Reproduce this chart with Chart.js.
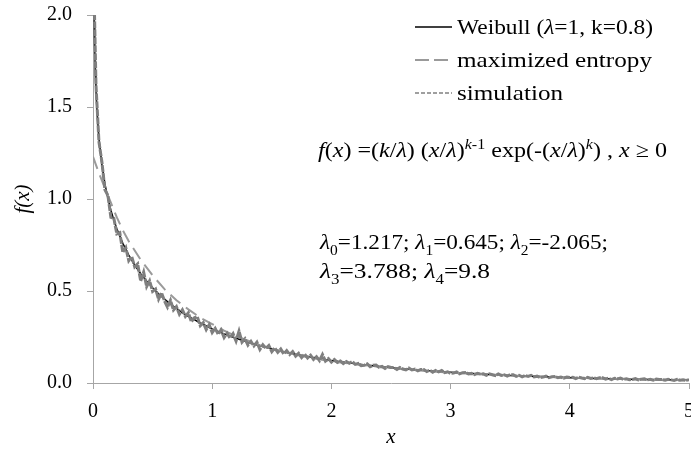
<!DOCTYPE html>
<html>
<head>
<meta charset="utf-8">
<script src="https://cdn.jsdelivr.net/npm/chart.js@4.4.1/dist/chart.umd.min.js"></script>
<style>
  html, body { margin: 0; padding: 0; background: #fff; }
  #wrap { width: 691px; height: 450px; }
</style>
</head>
<body>
<div id="wrap"><canvas id="myChart"></canvas></div>
<script>
// Weibull (lambda=1, k=0.8)
const weibullX = [0.005, 0.01, 0.015, 0.02, 0.025, 0.035, 0.05, 0.075, 0.1, 0.125, 0.15, 0.175, 0.2, 0.25, 0.3, 0.35, 0.4, 0.45, 0.5, 0.55, 0.6, 0.65, 0.7, 0.75, 0.8, 0.85, 0.9, 0.95, 1.0, 1.1, 1.2, 1.3, 1.4, 1.5, 1.6, 1.7, 1.8, 1.9, 2.0, 2.25, 2.5, 2.75, 3.0, 3.25, 3.5, 3.75, 4.0, 4.25, 4.5, 4.75, 5.0];
const weibullY = [2.28, 1.96, 1.79, 1.675, 1.588, 1.461, 1.329, 1.184, 1.082, 1.003, 0.939, 0.885, 0.838, 0.759, 0.695, 0.641, 0.594, 0.554, 0.518, 0.485, 0.456, 0.429, 0.405, 0.383, 0.362, 0.344, 0.326, 0.310, 0.294, 0.267, 0.243, 0.221, 0.202, 0.185, 0.170, 0.156, 0.144, 0.132, 0.122, 0.101, 0.083, 0.069, 0.058, 0.049, 0.041, 0.035, 0.029, 0.025, 0.021, 0.018, 0.016];

// maximized entropy curve (grey dashes)
const entropyX = [0, 0.05, 0.1, 0.15, 0.2, 0.25, 0.3, 0.35, 0.4, 0.5, 0.6, 0.7, 0.8, 0.9, 1.0, 1.1, 1.2, 1.4, 1.6, 1.8, 2.0, 2.5, 3.0, 3.5, 4.0, 4.5, 5.0];
const entropyY = [1.23, 1.14, 1.06, 0.98, 0.90, 0.83, 0.77, 0.72, 0.67, 0.585, 0.51, 0.45, 0.40, 0.355, 0.32, 0.285, 0.255, 0.205, 0.168, 0.14, 0.117, 0.08, 0.056, 0.04, 0.029, 0.021, 0.015];

// simulation, one value every 0.025 from x = 0 to 5
const simStep = 0.025;
const simY = [
  2.4,
  1.62, 1.31, 1.20, 1.05, 1.02, 0.90, 0.895, 0.81, 0.817, 0.71,
  0.736, 0.665, 0.687, 0.631, 0.647, 0.554, 0.603, 0.524, 0.555, 0.498,
  0.511, 0.455, 0.490, 0.446, 0.412, 0.449, 0.397, 0.415, 0.374, 0.398,
  0.362, 0.382, 0.333, 0.354, 0.360, 0.311, 0.328, 0.290, 0.317, 0.274,
  0.297, 0.265, 0.288, 0.247, 0.270, 0.244, 0.268, 0.228, 0.282, 0.222,
  0.241, 0.206, 0.226, 0.201, 0.222, 0.182, 0.208, 0.188, 0.204, 0.170,
  0.191, 0.167, 0.185, 0.158, 0.176, 0.155, 0.171, 0.146, 0.161, 0.138,
  0.157, 0.136, 0.151, 0.128, 0.143, 0.122, 0.155, 0.119, 0.133, 0.114,
  0.128, 0.112, 0.120, 0.106, 0.117, 0.107, 0.117, 0.101, 0.106, 0.094,
  0.096, 0.104, 0.089, 0.096, 0.098, 0.085, 0.090, 0.079, 0.089, 0.084,
  0.084, 0.074, 0.084, 0.076, 0.071, 0.081, 0.071, 0.075, 0.066, 0.074,
  0.074, 0.062, 0.069, 0.059, 0.068, 0.061, 0.068, 0.056, 0.061, 0.052,
  0.054, 0.060, 0.050, 0.056, 0.057, 0.049, 0.052, 0.045, 0.052, 0.049,
  0.050, 0.042, 0.050, 0.045, 0.040, 0.049, 0.041, 0.045, 0.038, 0.045,
  0.045, 0.036, 0.042, 0.033, 0.041, 0.036, 0.042, 0.033, 0.037, 0.030,
  0.032, 0.037, 0.029, 0.034, 0.035, 0.029, 0.032, 0.026, 0.032, 0.030,
  0.031, 0.024, 0.031, 0.027, 0.024, 0.031, 0.025, 0.028, 0.023, 0.029,
  0.029, 0.021, 0.026, 0.019, 0.026, 0.022, 0.027, 0.020, 0.023, 0.018,
  0.019, 0.024, 0.017, 0.021, 0.023, 0.017, 0.020, 0.015, 0.021, 0.019,
  0.019, 0.015, 0.020, 0.017, 0.014, 0.020, 0.015, 0.018, 0.014, 0.018
];

const xTicks = [0, 1, 2, 3, 4, 5];
const yTicks = [0.0, 0.5, 1.0, 1.5, 2.0];

const FONT = "'Liberation Serif', 'Times New Roman', serif";
const AXIS_GREY = '#a6a6a6';

const pts = (xs, ys) => xs.map((x, i) => ({x: x, y: ys[i]}));
const simPoints = simY.map((y, i) => ({x: +(i * simStep).toFixed(3), y: y}));

// draws a run of text pieces (italic / sub / sup), squeezed to a given width
function drawRich(ctx, runs, x, y, size, width) {
    const fontFor = r => (r.it ? 'italic ' : '') + Math.round((r.sub || r.sup) ? size * 0.68 : size) + 'px ' + FONT;
    let natural = 0;
    runs.forEach(r => { ctx.font = fontFor(r); natural += ctx.measureText(r.t).width; });
    const sx = width ? width / natural : 1;
    ctx.save();
    ctx.translate(x, y);
    ctx.scale(sx, 1);
    ctx.fillStyle = '#000';
    ctx.textBaseline = 'alphabetic';
    ctx.textAlign = 'left';
    let cx = 0;
    runs.forEach(r => {
        ctx.font = fontFor(r);
        const dy = r.sub ? size * 0.28 : (r.sup ? -size * 0.38 : 0);
        ctx.fillText(r.t, cx, dy);
        cx += ctx.measureText(r.t).width;
    });
    ctx.restore();
}

const legendRows = [
    {y: 27, color: '#000', width: 1.5, dash: [], runs: [{t: 'Weibull ('}, {t: 'λ', it: true}, {t: '=1, k=0.8)'}], w: 196},
    {y: 60, color: '#9a9a9a', width: 2, dash: [14, 5], runs: [{t: 'maximized entropy'}], w: 195},
    {y: 93, color: '#808080', width: 1.5, dash: [4, 2], runs: [{t: 'simulation'}], w: 106}
];

const notes = [
    {x: 318, y: 157, w: 349, runs: [
        {t: 'f', it: true}, {t: '('}, {t: 'x', it: true}, {t: ') =('}, {t: 'k', it: true}, {t: '/'}, {t: 'λ', it: true},
        {t: ') ('}, {t: 'x', it: true}, {t: '/'}, {t: 'λ', it: true}, {t: ')'}, {t: 'k', it: true, sup: true}, {t: '-1', sup: true},
        {t: ' exp(-('}, {t: 'x', it: true}, {t: '/'}, {t: 'λ', it: true}, {t: ')'}, {t: 'k', it: true, sup: true},
        {t: ') , '}, {t: 'x', it: true}, {t: ' ≥ 0'}]},
    {x: 320, y: 249, w: 288, runs: [
        {t: 'λ', it: true}, {t: '0', sub: true}, {t: '=1.217; '}, {t: 'λ', it: true}, {t: '1', sub: true},
        {t: '=0.645; '}, {t: 'λ', it: true}, {t: '2', sub: true}, {t: '=-2.065;'}]},
    {x: 320, y: 278, w: 170, runs: [
        {t: 'λ', it: true}, {t: '3', sub: true}, {t: '=3.788; '}, {t: 'λ', it: true}, {t: '4', sub: true}, {t: '=9.8'}]}
];

const overlay = {
    id: 'overlay',
    afterDraw(chart) {
        const ctx = chart.ctx;
        legendRows.forEach(r => {
            ctx.save();
            ctx.strokeStyle = r.color;
            ctx.lineWidth = r.width;
            ctx.setLineDash(r.dash);
            ctx.beginPath();
            ctx.moveTo(415, r.y);
            ctx.lineTo(452, r.y);
            ctx.stroke();
            ctx.restore();
            drawRich(ctx, r.runs, 457, r.y + 7, 21, r.w);
        });
        notes.forEach(n => drawRich(ctx, n.runs, n.x, n.y, 21, n.w));
    }
};

new Chart(document.getElementById('myChart').getContext('2d'), {
    type: 'line',
    data: {
        datasets: [
            {label: 'simulation', data: simPoints, borderColor: '#7f7f7f', borderWidth: 3, borderDash: [7, 1], order: 0},
            {label: 'maximized entropy', data: pts(entropyX, entropyY), borderColor: '#9a9a9a', borderWidth: 2, borderDash: [13, 7], order: 1},
            {label: 'Weibull (λ=1, k=0.8)', data: pts(weibullX, weibullY), borderColor: '#000', borderWidth: 1.5, order: 2}
        ]
    },
    options: {
        responsive: true,
        maintainAspectRatio: false,
        animation: false,
        elements: {point: {radius: 0}, line: {tension: 0, fill: false}},
        layout: {padding: {top: 15, right: 2, left: 0, bottom: 0}},
        scales: {
            x: {
                type: 'linear',
                min: 0,
                max: 5,
                afterBuildTicks: s => { s.ticks = xTicks.map(v => ({value: v})); },
                afterFit: s => { s.height = 67; s.paddingLeft = 0; s.paddingRight = 0; },
                ticks: {color: '#000', font: {family: FONT, size: 20}, padding: 11, maxRotation: 0, callback: v => String(v)},
                grid: {display: true, drawOnChartArea: false, drawTicks: true, tickLength: 6, color: AXIS_GREY},
                border: {display: true, color: AXIS_GREY, width: 1},
                title: {display: true, text: 'x', color: '#000', font: {family: FONT, size: 21, style: 'italic'}, padding: {top: 0, bottom: 0}}
            },
            y: {
                min: 0,
                max: 2,
                afterBuildTicks: s => { s.ticks = yTicks.map(v => ({value: v})); },
                afterFit: s => { s.width = 93; s.paddingTop = 0; s.paddingBottom = 0; },
                ticks: {color: '#000', font: {family: FONT, size: 20}, padding: 15, callback: v => v.toFixed(1)},
                grid: {display: true, drawOnChartArea: false, drawTicks: true, tickLength: 6, color: AXIS_GREY},
                border: {display: true, color: AXIS_GREY, width: 1},
                title: {display: true, text: 'f(x)', color: '#000', font: {family: FONT, size: 21, style: 'italic'}, padding: {top: 11, bottom: 0}}
            }
        },
        plugins: {
            legend: {display: false},
            tooltip: {enabled: false}
        }
    },
    plugins: [overlay]
});
</script>
</body>
</html>
